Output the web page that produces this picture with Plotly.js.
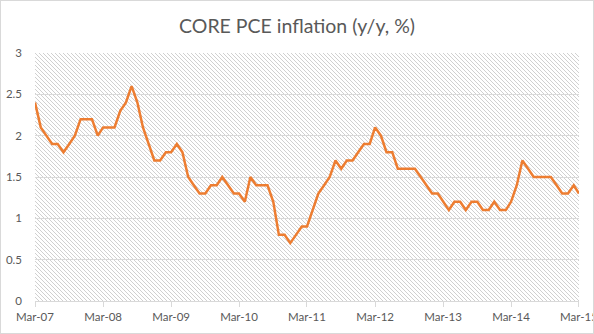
<!DOCTYPE html>
<html>
<head>
<meta charset="utf-8">
<script src="https://cdn.plot.ly/plotly-3.0.1.min.js"></script>
<style>
  html, body { margin: 0; padding: 0; background: #ffffff; }
  #wrap { position: relative; width: 594px; height: 334px; overflow: hidden; }
  #chart { width: 594px; height: 334px; }
  #frame { position: absolute; left: 0; top: 0; width: 592px; height: 332px; border: 1px solid #d9d9d9; pointer-events: none; }
</style>
</head>
<body>
<div id="wrap"><div id="chart"></div><div id="frame"></div></div>
<script>
// Core PCE inflation, y/y %, monthly Mar-07 .. Mar-15
const startYear = 2007, startMonth = 3;
const corePCE = [
  2.4, 2.1, 2.0, 1.9, 1.9, 1.8, 1.9, 2.0, 2.2, 2.2, 2.2, 2.0,   // Mar-07 .. Feb-08
  2.1, 2.1, 2.1, 2.3, 2.4, 2.6, 2.4, 2.1, 1.9, 1.7, 1.7, 1.8,   // Mar-08 .. Feb-09
  1.8, 1.9, 1.8, 1.5, 1.4, 1.3, 1.3, 1.4, 1.4, 1.5, 1.4, 1.3,   // Mar-09 .. Feb-10
  1.3, 1.2, 1.5, 1.4, 1.4, 1.4, 1.2, 0.8, 0.8, 0.7, 0.8, 0.9,   // Mar-10 .. Feb-11
  0.9, 1.1, 1.3, 1.4, 1.5, 1.7, 1.6, 1.7, 1.7, 1.8, 1.9, 1.9,   // Mar-11 .. Feb-12
  2.1, 2.0, 1.8, 1.8, 1.6, 1.6, 1.6, 1.6, 1.5, 1.4, 1.3, 1.3,   // Mar-12 .. Feb-13
  1.2, 1.1, 1.2, 1.2, 1.1, 1.2, 1.2, 1.1, 1.1, 1.2, 1.1, 1.1,   // Mar-13 .. Feb-14
  1.2, 1.4, 1.7, 1.6, 1.5, 1.5, 1.5, 1.5, 1.4, 1.3, 1.3, 1.4,   // Mar-14 .. Feb-15
  1.3                                                           // Mar-15
];
const months = corePCE.map((v, i) => {
  const m0 = startMonth - 1 + i;
  const y = startYear + Math.floor(m0 / 12);
  const m = (m0 % 12) + 1;
  return y + '-' + String(m).padStart(2, '0') + '-01';
});
const tickVals = ['2007-03-01','2008-03-01','2009-03-01','2010-03-01','2011-03-01','2012-03-01','2013-03-01','2014-03-01','2015-03-01'];
const tickText = ['Mar-07','Mar-08','Mar-09','Mar-10','Mar-11','Mar-12','Mar-13','Mar-14','Mar-15'];
const yTicks = [0, 0.5, 1, 1.5, 2, 2.5, 3];
const yText = ['0', '0.5', '1', '1.5', '2', '2.5', '3'];

const M = { l: 35, r: 15, t: 53, b: 33 };
const PW = 594 - M.l - M.r, PH = 334 - M.t - M.b;
const hatchSvg =
  '<svg xmlns="http://www.w3.org/2000/svg" width="' + PW + '" height="' + PH + '">' +
  '<defs><pattern id="h" width="4" height="4" patternUnits="userSpaceOnUse">' +
  '<path d="M-1,-1 L5,5 M-1,3 L1,5 M3,-1 L5,1" stroke="#c8c8c8" stroke-width="0.85"/></pattern></defs>' +
  '<rect width="100%" height="100%" fill="#ffffff"/><rect width="100%" height="100%" fill="url(#h)"/></svg>';
const hatchUri = 'data:image/svg+xml;base64,' + btoa(hatchSvg);

const FONT = 'Lato, "Open Sans", sans-serif';
const trace = {
  x: months, y: corePCE, type: 'scatter', mode: 'lines',
  line: { color: '#ED7D31', width: 2.5, shape: 'linear' },
  hoverinfo: 'x+y'
};
const layout = {
  width: 594, height: 334,
  margin: M,
  paper_bgcolor: '#ffffff', plot_bgcolor: '#ffffff',
  showlegend: false,
  title: { text: 'CORE PCE inflation (y/y, %)', x: 0.5, xref: 'container', xanchor: 'center',
           y: 0.922, yref: 'container', yanchor: 'middle',
           font: { family: FONT, size: 19.5, color: '#595959' } },
  font: { family: FONT, color: '#595959' },
  xaxis: {
    type: 'date', range: ['2007-03-01', '2015-03-01 04:00'],
    tickmode: 'array', tickvals: tickVals, ticktext: tickText,
    ticks: 'outside', ticklen: 5, tickcolor: '#d9d9d9', tickwidth: 1,
    showline: true, linecolor: '#d9d9d9', linewidth: 1,
    showgrid: false, zeroline: false, ticklabeloverflow: 'allow',
    tickfont: { family: FONT, size: 11.5, color: '#595959' }
  },
  yaxis: {
    range: [0, 3], tickmode: 'array', tickvals: yTicks, ticktext: yText,
    showgrid: true, gridcolor: '#d9d9d9', gridwidth: 1,
    zeroline: false, showline: false, ticks: '',
    ticklabelstandoff: 12,
    tickfont: { family: FONT, size: 11.5, color: '#595959' }
  },
  images: [{ source: hatchUri, xref: 'paper', yref: 'paper', x: 0, y: 1, sizex: 1, sizey: 1,
             xanchor: 'left', yanchor: 'top', sizing: 'stretch', layer: 'below' }]
};
Plotly.newPlot('chart', [trace], layout, { displayModeBar: false, staticPlot: true });
</script>
</body>
</html>
